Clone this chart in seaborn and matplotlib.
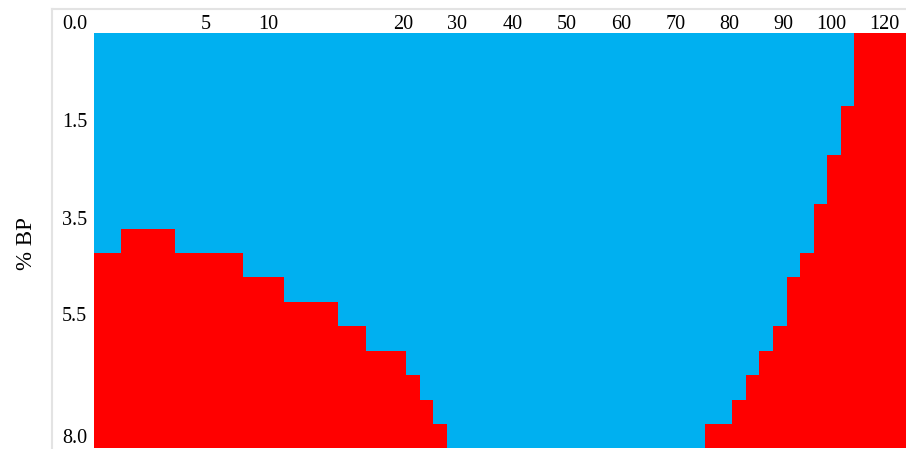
import numpy as np
import pandas as pd
import seaborn as sns
import matplotlib.pyplot as plt
from matplotlib.colors import ListedColormap

# First row (from the top) at which each column turns red; 17 = stays blue
red_start_row = [
    9, 9, 8, 8, 8, 8, 9, 9, 9, 9, 9, 10, 10, 10, 11, 11, 11, 11, 12, 12,
    13, 13, 13, 14, 15, 16,
    17, 17, 17, 17, 17, 17, 17, 17, 17, 17, 17, 17, 17, 17, 17, 17, 17, 17, 17,
    16, 16, 15, 14, 13, 12, 10, 9, 7, 5, 3, 0, 0, 0, 0,
]
n_rows = 17

x_tick_labels = ["5", "10", "20", "30", "40", "50", "60", "70", "80", "90", "100", "120"]
y_tick_labels = ["0.0", "1.5", "3.5", "5.5", "8.0"]

# layout: where the labels sit along the cell grid
x_tick_pos = [8.2, 12.8, 22.8, 26.7, 30.8, 34.8, 38.8, 42.8, 46.8, 50.8, 54.3, 58.2]
y_tick_pos = [-0.45, 3.55, 7.55, 11.5, 16.5]

blue = "#00B0F0"
red = "#FF0000"

rows = np.arange(n_rows)[:, None]
grid = (rows >= np.array(red_start_row)[None, :]).astype(int)
df = pd.DataFrame(grid)

sns.set_style("white")
plt.rcParams["font.family"] = ["Liberation Serif", "DejaVu Serif"]

W, H = 906, 449
fig = plt.figure(figsize=(W / 100, H / 100), dpi=100)

col_w = 13.58
row_h = 24.44
x_left = -3.09
left_px = 94 + x_left * col_w
right_px = 94 + 60 * col_w
top_px = 33 - row_h
bottom_px = 33 + n_rows * row_h
ax = fig.add_axes([left_px / W, (H - bottom_px) / H,
                   (right_px - left_px) / W, (bottom_px - top_px) / H])

sns.heatmap(df, ax=ax, cmap=ListedColormap([blue, red]), vmin=0, vmax=1,
            cbar=False, xticklabels=False, yticklabels=False, linewidths=0)

ax.set_xlim(x_left, 60)
ax.set_ylim(n_rows, -1)
ax.set_facecolor("white")

for side in ["right", "bottom"]:
    ax.spines[side].set_visible(False)
for side in ["top", "left"]:
    ax.spines[side].set_visible(True)
    ax.spines[side].set_color("#e3e3e3")
    ax.spines[side].set_linewidth(1.5)

ax.set_xticks(x_tick_pos)
ax.set_xticklabels(x_tick_labels)
ax.set_yticks(y_tick_pos)
ax.set_yticklabels(y_tick_labels, rotation=0)
ax.xaxis.tick_top()
ax.tick_params(axis="x", length=0, pad=-18.5, labelsize=14.5, labelcolor="#000000",
               top=True, bottom=False, labeltop=True, labelbottom=False)
ax.tick_params(axis="y", length=0, pad=-25.2, labelsize=14.5, labelcolor="#000000")

ax.set_xlabel("")
ax.set_ylabel("% BP", fontsize=16.5, color="#000000")
ax.yaxis.set_label_coords(-0.0175, (bottom_px - 244) / (bottom_px - top_px))

fig.savefig("out.png", dpi=100)
